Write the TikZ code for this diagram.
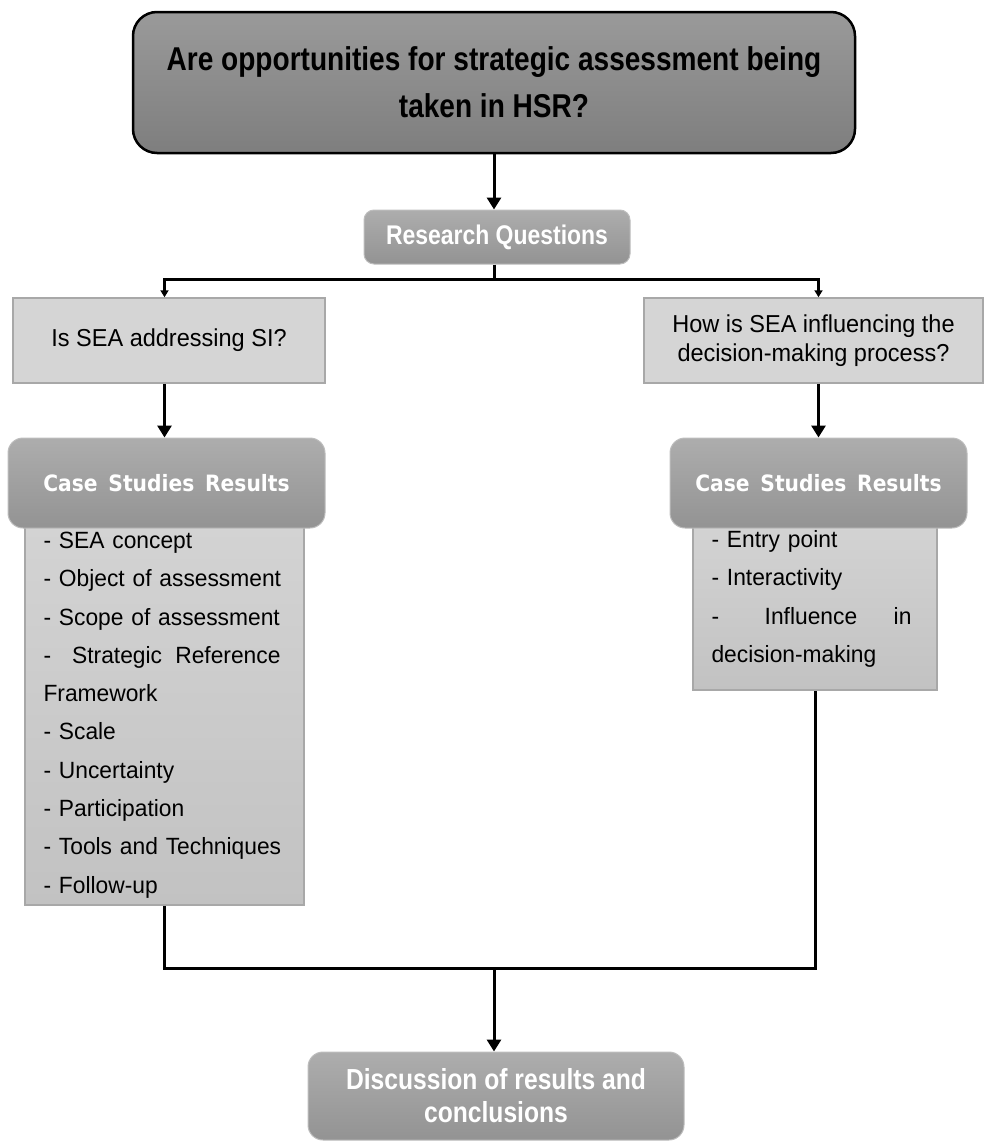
\documentclass[tikz,border=0pt]{standalone}
\usepackage{fontspec}
\setmainfont{Liberation Sans}
\newfontfamily\condfont[FakeStretch=0.85]{Liberation Sans}
\newfontfamily\qfont[FakeStretch=0.96]{Liberation Sans}
\newfontfamily\listfont[FakeStretch=0.97]{Liberation Sans}
\newfontfamily\wideboldfont[FakeStretch=0.9]{DejaVu Sans}
\usetikzlibrary{arrows.meta,calc}
\definecolor{topA}{HTML}{9A9A9A}
\definecolor{topB}{HTML}{7E7E7E}
\definecolor{midA}{HTML}{ADADAD}
\definecolor{midB}{HTML}{939393}
\definecolor{qfill}{HTML}{D5D5D5}
\definecolor{qline}{HTML}{A8A8A8}
\definecolor{lstA}{HTML}{D3D3D3}
\definecolor{lstB}{HTML}{C2C2C2}
\definecolor{softedge}{HTML}{BDBDBD}
\begin{document}
\begin{tikzpicture}[x=1pt,y=-1pt,
  topbox/.style={draw=black, line width=2.5pt, rounded corners=24pt, top color=topA, bottom color=topB,
    align=center, font={\condfont\bfseries\fontsize{33}{47}\selectfont}, text=black},
  graybox/.style={draw=softedge, line width=1pt, top color=midA, bottom color=midB,
    align=center, text=white},
  qbox/.style={draw=qline, line width=1.5pt, fill=qfill, align=center,
    font={\qfont\fontsize{24.5}{29}\selectfont}, text=black},
  lstbox/.style={draw=qline, line width=1.5pt, top color=lstA, bottom color=lstB, align=left,
    font={\listfont\fontsize{23.5}{38.3}\selectfont\hyphenpenalty=10000}, text=black, inner xsep=18.5pt},
  conn/.style={line width=3pt, black},
  bigtip/.style={-{Triangle[width=14pt,length=12pt]}},
  smalltips/.style={{Triangle[width=8pt,length=7pt]}-{Triangle[width=8pt,length=7pt]}}
]
\useasboundingbox (0,0) rectangle (984,1146);

% top question
\node[topbox, minimum width=722pt, minimum height=141pt] (top) at (494,82.5)
  {Are opportunities for strategic assessment being\\taken in HSR?};

% research questions
\node[graybox, rounded corners=10pt, minimum width=266pt, minimum height=54pt,
  font={\condfont\bfseries\fontsize{27}{30}\selectfont}] (rq) at (497,237) {Research Questions};

% research question boxes
\node[qbox, minimum width=312pt, minimum height=85pt] (q1) at (169,340.5)
  {Is SEA addressing SI?};
\node[qbox, minimum width=339pt, minimum height=85pt] (q2) at (813.5,340.5)
  {How is SEA influencing the\\decision-making process?};

% list boxes (drawn first, under the headers)
\node[lstbox, text width=242pt, minimum height=380pt] (l1) at (164.5,715)
  {- SEA concept\\
   - Object of assessment\\
   - Scope of assessment\\
   \leavevmode\hbox to 237pt{-\hskip 0pt plus 1.6fill Strategic\hskip 0pt plus 1fill Reference}\\
   Framework\\
   - Scale\\
   - Uncertainty\\
   - Participation\\
   - Tools and Techniques\\
   - Follow-up};
\node[lstbox, text width=207pt, minimum height=165pt] (l2) at (815,607.5)
  {- Entry point\\
   - Interactivity\\
   \leavevmode\hbox to 200pt{-\hskip 0pt plus 1.25fill Influence\hskip 0pt plus 1fill in}\\
   decision-making\\[-16pt]\mbox{}};

% case studies headers
\node[graybox, rounded corners=15pt, minimum width=317pt, minimum height=90pt,
  font={\wideboldfont\bfseries\fontsize{22.5}{26}\selectfont}] (cs1) at (166.5,483)
  {Case\, Studies\, Results};
\node[graybox, rounded corners=15pt, minimum width=297pt, minimum height=90pt,
  font={\wideboldfont\bfseries\fontsize{22.5}{26}\selectfont}] (cs2) at (818.5,483)
  {Case\, Studies\, Results};

% discussion
\node[graybox, rounded corners=15pt, minimum width=376pt, minimum height=88pt,
  font={\condfont\bfseries\fontsize{29}{33}\selectfont}] (disc) at (496,1096)
  {Discussion of results and\\conclusions};

% connectors
\coordinate (jt) at (494,279);
\coordinate (jb) at (494,968);
\draw[conn, bigtip] (top.south) -- (top.south |- rq.north);
\draw[conn] (top.south |- rq.south) -- (jt);
\draw[conn, smalltips] (l1.north |- q1.north) -- (l1.north |- jt) -- (cs2.north |- jt) -- (cs2.north |- q2.north);
\draw[conn, bigtip] (q1.south -| l1.north) -- (cs1.north -| l1.north);
\draw[conn, bigtip] (q2.south -| cs2.north) -- (cs2.north);
\draw[conn, line join=miter] (l1.south) -- (l1.south |- jb) -- (l2.south |- jb) -- (l2.south);
\draw[conn, bigtip] (jb) -- (jb |- disc.north);
\end{tikzpicture}
\end{document}
